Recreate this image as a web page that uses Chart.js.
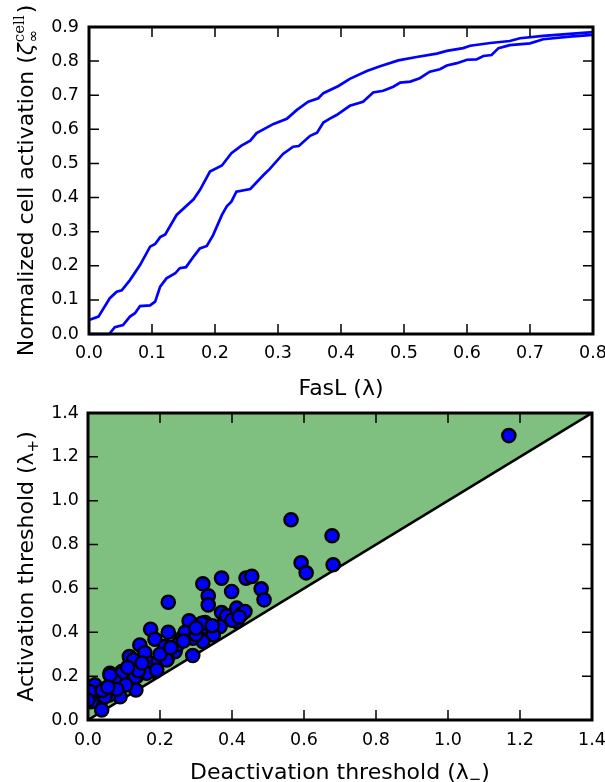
<!DOCTYPE html>
<html>
<head>
<meta charset="utf-8">
<script src="https://cdn.jsdelivr.net/npm/chart.js@4.4.1/dist/chart.umd.min.js"></script>
<style>
  html, body { margin: 0; padding: 0; background: #fff; width: 605px; height: 782px; overflow: hidden; }
  canvas { position: absolute; left: 0; }
  #activation { top: 0; }
  #thresholds { top: 386px; }
</style>
</head>
<body>
<canvas id="activation" width="605" height="400"></canvas>
<canvas id="thresholds" width="605" height="396"></canvas>
<script>
// --- Data: hysteresis curves (top panel) ---
const upperX = [0, 0.015, 0.033, 0.044, 0.052, 0.065, 0.081, 0.097, 0.105, 0.113, 0.121, 0.139, 0.166, 0.176, 0.192, 0.211, 0.226, 0.242, 0.256, 0.266, 0.293, 0.314, 0.330, 0.348, 0.364, 0.372, 0.396, 0.414, 0.441, 0.462, 0.491, 0.520, 0.552, 0.568, 0.594, 0.605, 0.637, 0.668, 0.684, 0.721, 0.763, 0.8];
const upperY = [0.041, 0.051, 0.105, 0.124, 0.128, 0.158, 0.202, 0.256, 0.264, 0.284, 0.292, 0.349, 0.395, 0.422, 0.476, 0.494, 0.530, 0.552, 0.567, 0.589, 0.616, 0.631, 0.657, 0.681, 0.691, 0.706, 0.727, 0.748, 0.771, 0.785, 0.802, 0.812, 0.822, 0.830, 0.838, 0.845, 0.853, 0.859, 0.867, 0.874, 0.880, 0.885];
const lowerX = [0, 0.032, 0.041, 0.054, 0.065, 0.073, 0.081, 0.097, 0.105, 0.113, 0.123, 0.137, 0.144, 0.154, 0.166, 0.176, 0.187, 0.197, 0.211, 0.219, 0.226, 0.234, 0.256, 0.277, 0.287, 0.308, 0.324, 0.333, 0.351, 0.362, 0.372, 0.383, 0.393, 0.414, 0.435, 0.451, 0.467, 0.483, 0.494, 0.510, 0.525, 0.541, 0.557, 0.568, 0.584, 0.600, 0.615, 0.626, 0.639, 0.650, 0.668, 0.700, 0.721, 0.763, 0.8];
const lowerY = [0, 0, 0.020, 0.026, 0.051, 0.061, 0.082, 0.084, 0.095, 0.139, 0.163, 0.178, 0.193, 0.196, 0.227, 0.251, 0.258, 0.290, 0.349, 0.375, 0.388, 0.417, 0.425, 0.466, 0.484, 0.528, 0.549, 0.551, 0.581, 0.590, 0.620, 0.632, 0.642, 0.669, 0.681, 0.708, 0.713, 0.725, 0.737, 0.740, 0.750, 0.769, 0.776, 0.787, 0.794, 0.804, 0.805, 0.815, 0.818, 0.838, 0.847, 0.852, 0.864, 0.872, 0.877];

// --- Data: thresholds per cell (bottom panel) ---
const deactivation = [1.169, 0.564, 0.678, 0.592, 0.606, 0.681, 0.319, 0.371, 0.439, 0.455, 0.481, 0.489, 0.334, 0.334, 0.399, 0.223, 0.371, 0.385, 0.413, 0.427, 0.436, 0.413, 0.367, 0.325, 0.325, 0.348, 0.316, 0.281, 0.319, 0.291, 0.260, 0.291, 0.223, 0.174, 0.186, 0.214, 0.242, 0.220, 0.144, 0.158, 0.115, 0.126, 0.172, 0.195, 0.186, 0.163, 0.135, 0.094, 0.061, 0.070, 0.084, 0.133, 0.089, 0.059, 0.019, 0.029, 0.033, 0.038, 0.010, 0.047, 0.094, 0.075, 0.061, 0.218, 0.191, 0.131, 0.270, 0.005, 0.000, 0.040, 0.105, 0.140, 0.250, 0.300, 0.345, 0.400, 0.420, 0.110, 0.150, 0.200, 0.230, 0.265, 0.300, 0.080, 0.055];
const activation   = [1.297, 0.913, 0.840, 0.717, 0.671, 0.708, 0.621, 0.647, 0.647, 0.655, 0.598, 0.548, 0.566, 0.525, 0.586, 0.537, 0.490, 0.475, 0.510, 0.484, 0.495, 0.449, 0.426, 0.423, 0.444, 0.388, 0.441, 0.452, 0.358, 0.373, 0.373, 0.294, 0.400, 0.414, 0.368, 0.335, 0.312, 0.277, 0.342, 0.307, 0.289, 0.274, 0.259, 0.266, 0.221, 0.213, 0.198, 0.221, 0.213, 0.190, 0.167, 0.137, 0.106, 0.114, 0.160, 0.122, 0.076, 0.046, 0.084, 0.106, 0.213, 0.175, 0.205, 0.274, 0.228, 0.198, 0.400, 0.130, 0.090, 0.135, 0.160, 0.225, 0.345, 0.390, 0.430, 0.455, 0.470, 0.240, 0.260, 0.300, 0.330, 0.360, 0.420, 0.140, 0.150];
const diagonalX = [0, 1.4];
const diagonalY = [0, 1.4];

const topXTicks = [0, 0.1, 0.2, 0.3, 0.4, 0.5, 0.6, 0.7, 0.8];
const topYTicks = [0, 0.1, 0.2, 0.3, 0.4, 0.5, 0.6, 0.7, 0.8, 0.9];
const bottomTicks = [0, 0.2, 0.4, 0.6, 0.8, 1.0, 1.2, 1.4];

Chart.defaults.font.family = '"DejaVu Sans"';
Chart.defaults.font.size = 17.5;
Chart.defaults.color = '#000';

const TITLE = '22px "DejaVu Sans"';
const SMALL = '15px "DejaVu Sans"';

// draw a title made of runs of text with different fonts / offsets
function drawRich(ctx, parts, cx, cy, angle) {
    const widthOf = p => {
        if (p.sup !== undefined) {
            ctx.font = p.supFont; const a = ctx.measureText(p.sup).width;
            ctx.font = p.subFont; const b = ctx.measureText(p.sub).width;
            return Math.max(a, b) + 3;
        }
        ctx.font = p.font;
        return ctx.measureText(p.t).width;
    };
    const total = parts.reduce((s, p) => s + widthOf(p), 0);
    ctx.save();
    ctx.translate(cx, cy);
    ctx.rotate(angle);
    ctx.fillStyle = '#000';
    ctx.textBaseline = 'alphabetic';
    ctx.textAlign = 'left';
    let x = -total / 2;
    parts.forEach(p => {
        const w = widthOf(p);
        if (p.sup !== undefined) {
            ctx.font = p.supFont; ctx.fillText(p.sup, x + 1, -9);
            ctx.font = p.subFont; ctx.fillText(p.sub, x + 1, 5);
        } else {
            ctx.font = p.font; ctx.fillText(p.t, x, p.dy || 0);
        }
        x += w;
    });
    ctx.restore();
}

// matplotlib-like frame: inward ticks on four sides + axis titles
const mplFrame = {
    id: 'mplFrame',
    afterDraw(chart, args, opts) {
        const ctx = chart.ctx, a = chart.chartArea;
        const xs = chart.scales.x, ys = chart.scales.y;
        ctx.save();
        ctx.strokeStyle = '#000';
        ctx.lineWidth = 1.5;
        ctx.beginPath();
        opts.xTicks.forEach(v => {
            const px = xs.getPixelForValue(v);
            ctx.moveTo(px, a.bottom); ctx.lineTo(px, a.bottom - 10);
            ctx.moveTo(px, a.top); ctx.lineTo(px, a.top + 10);
        });
        opts.yTicks.forEach(v => {
            const py = ys.getPixelForValue(v);
            ctx.moveTo(a.left, py); ctx.lineTo(a.left + 10, py);
            ctx.moveTo(a.right, py); ctx.lineTo(a.right - 10, py);
        });
        ctx.stroke();
        ctx.lineWidth = 3;
        ctx.strokeRect(a.left, a.top, a.right - a.left, a.bottom - a.top);
        ctx.restore();
        drawRich(ctx, opts.xTitle, (a.left + a.right) / 2, opts.xBase, 0);
        drawRich(ctx, opts.yTitle, opts.yBase, (a.top + a.bottom) / 2, -Math.PI / 2);
    }
};

function axis(min, max, step, pad, fit) {
    return {
        type: 'linear', min: min, max: max,
        grid: { display: false, drawTicks: false },
        border: { display: false },
        ticks: { stepSize: step, padding: pad, autoSkip: false, maxRotation: 0, callback: v => Number(v).toFixed(1) },
        afterFit: fit
    };
}

const pts = (xs, ys) => xs.map((x, i) => ({ x: x, y: ys[i] }));

// --- Top panel: activation vs FasL ---
new Chart(document.getElementById('activation'), {
    type: 'scatter',
    data: {
        datasets: [
            { data: pts(upperX, upperY), showLine: true, borderColor: '#0000ff', borderWidth: 2.7, pointRadius: 0, tension: 0, clip: 2 },
            { data: pts(lowerX, lowerY), showLine: true, borderColor: '#0000ff', borderWidth: 2.7, pointRadius: 0, tension: 0, clip: 2 }
        ]
    },
    options: {
        responsive: false, animation: false, events: [],
        layout: { padding: { top: 27, right: 12, left: 0, bottom: 0 } },
        plugins: {
            legend: { display: false }, tooltip: { enabled: false },
            mplFrame: {
                xTicks: topXTicks, yTicks: topYTicks, xBase: 395, yBase: 33,
                xTitle: [{ t: 'FasL (', font: TITLE }, { t: 'λ', font: TITLE }, { t: ')', font: TITLE }],
                yTitle: [
                    { t: 'Normalized cell activation (', font: TITLE },
                    { t: 'ζ', font: 'italic 22px "DejaVu Sans"' },
                    { sup: 'cell', sub: '∞', supFont: '15px "DejaVu Serif"', subFont: SMALL },
                    { t: ')', font: TITLE }
                ]
            }
        },
        scales: {
            x: axis(0, 0.8, 0.1, 9, s => { s.height = 66; s.paddingLeft = 0; s.paddingRight = 0; }),
            y: axis(0, 0.9, 0.1, 10, s => { s.width = 89; s.paddingTop = 0; s.paddingBottom = 0; })
        }
    },
    plugins: [mplFrame]
});

// --- Bottom panel: activation vs deactivation threshold ---
new Chart(document.getElementById('thresholds'), {
    type: 'scatter',
    data: {
        datasets: [
            { data: pts(deactivation, activation), backgroundColor: '#0000ff', borderColor: '#000', borderWidth: 2.4, pointRadius: 6.6, clip: 0 },
            { type: 'line', data: pts(diagonalX, diagonalY), showLine: true, borderColor: '#000', borderWidth: 2.6, pointRadius: 0, fill: 'end', backgroundColor: 'rgba(0,128,0,0.5)', clip: 0 }
        ]
    },
    options: {
        responsive: false, animation: false, events: [],
        layout: { padding: { top: 27, right: 13, left: 0, bottom: 0 } },
        plugins: {
            legend: { display: false }, tooltip: { enabled: false },
            mplFrame: {
                xTicks: bottomTicks, yTicks: bottomTicks, xBase: 393, yBase: 33,
                xTitle: [
                    { t: 'Deactivation threshold (', font: TITLE },
                    { t: 'λ', font: TITLE },
                    { t: '−', font: SMALL, dy: 5 },
                    { t: ')', font: TITLE }
                ],
                yTitle: [
                    { t: 'Activation threshold (', font: TITLE },
                    { t: 'λ', font: TITLE },
                    { t: '+', font: SMALL, dy: 5 },
                    { t: ')', font: TITLE }
                ]
            }
        },
        scales: {
            x: axis(0, 1.4, 0.2, 10, s => { s.height = 62; s.paddingLeft = 0; s.paddingRight = 0; }),
            y: axis(0, 1.4, 0.2, 9, s => { s.width = 88; s.paddingTop = 0; s.paddingBottom = 0; })
        }
    },
    plugins: [mplFrame]
});
</script>
</body>
</html>
